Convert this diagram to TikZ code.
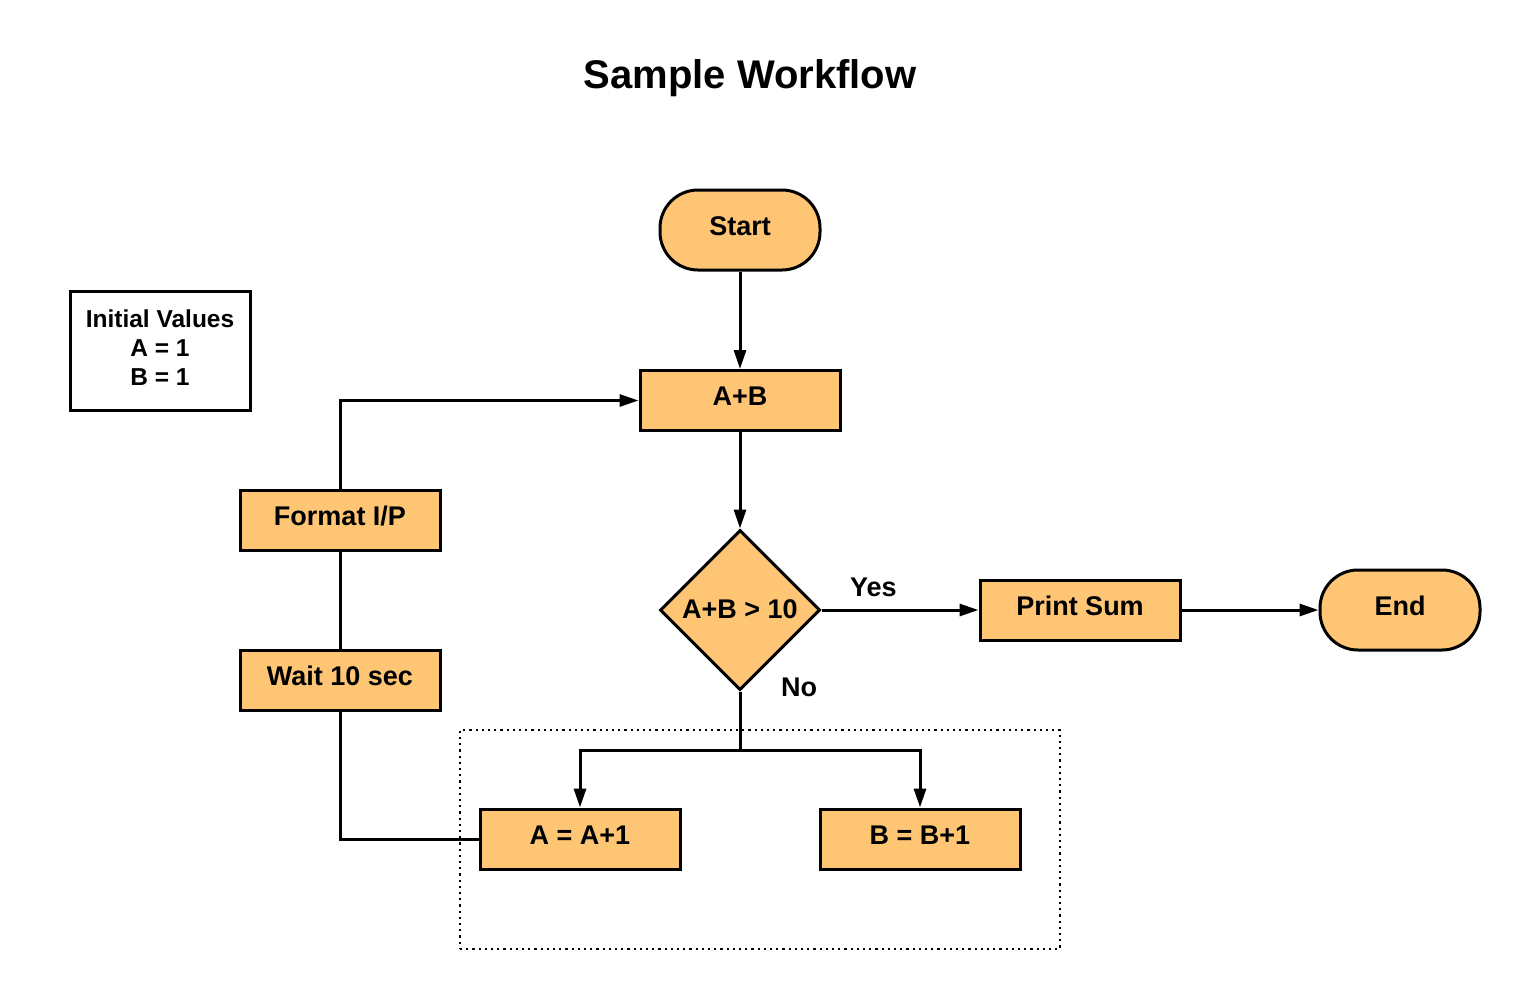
\documentclass[tikz,border=0pt]{standalone}
\usepackage{fontspec}
\setmainfont{Liberation Sans}
\usetikzlibrary{arrows.meta,shapes.geometric}
\definecolor{boxfill}{HTML}{FEC575}
\begin{document}
\begin{tikzpicture}[x=1pt,y=-1pt,
  txt/.style={font=\bfseries\fontsize{27}{30}\selectfont},
  proc/.style={txt, draw, line width=3pt, fill=boxfill, minimum width=200pt,
    minimum height=60pt, inner sep=0pt, text height=19.5pt, text depth=9.5pt},
  term/.style={proc, rounded corners=38pt, minimum width=160pt, minimum height=80pt},
  dec/.style={proc, diamond, minimum width=160pt, minimum height=160pt, aspect=1, text depth=3.4pt},
  conn/.style={line width=3pt},
  arr/.style={conn, -{Triangle[length=19pt,width=12pt]}},
  lbl/.style={txt, inner sep=0pt, anchor=base west}
]
\useasboundingbox (0,0) rectangle (1520,991);

% group frame
\node[draw, line width=2.2pt, dash pattern=on 2.2pt off 4pt, minimum width=600pt,
  minimum height=219pt, inner sep=0pt] (grp) at (760,839.5) {};

% title
\node[font=\bfseries\fontsize{40}{44}\selectfont, anchor=base] (title) at (750,88) {Sample Workflow};

% initial values
\node[draw, line width=3pt, minimum width=180pt, minimum height=119pt, align=center,
  font=\bfseries\fontsize{24.5}{29.5}\selectfont, inner sep=0pt] (init) at (160,350.5)
  {\raisebox{4pt}{\begin{tabular}{@{}c@{}}Initial Values\\[-0.5pt]A = 1\\[-0.5pt]B = 1\end{tabular}}};

% nodes
\node[term] (start) at (740,230) {Start};
\node[proc] (ab) at (740,400.5) {A+B};
\node[dec] (cond) at (740,610) {A+B > 10};
\node[proc] (print) at (1080,610) {Print Sum};
\node[term] (end) at (1400,610) {End};
\node[proc] (fmt) at (340,520) {Format I/P};
\node[proc] (wait) at (340,680) {Wait 10 sec};
\node[proc] (inca) at (580,839) {A = A+1};
\node[proc] (incb) at (920,839) {B = B+1};

% labels
\node[lbl] (yes) at (850,596) {Yes};
\node[lbl] (no) at (781,696) {No};

% connectors
\coordinate (split) at (740,750);
\draw[arr] (start) -- (ab);
\draw[arr] (ab) -- (cond);
\draw[arr] (cond.east) -- (print.west);
\draw[arr] (print) -- (end);
\draw[conn] (cond.south) -- (split);
\draw[arr] (split) -| (inca.north);
\draw[arr] (split) -| (incb.north);
\draw[conn] (inca.west) -| (wait.south);
\draw[conn] (wait) -- (fmt);
\draw[arr] (fmt.north) |- (ab.west);
\end{tikzpicture}
\end{document}
